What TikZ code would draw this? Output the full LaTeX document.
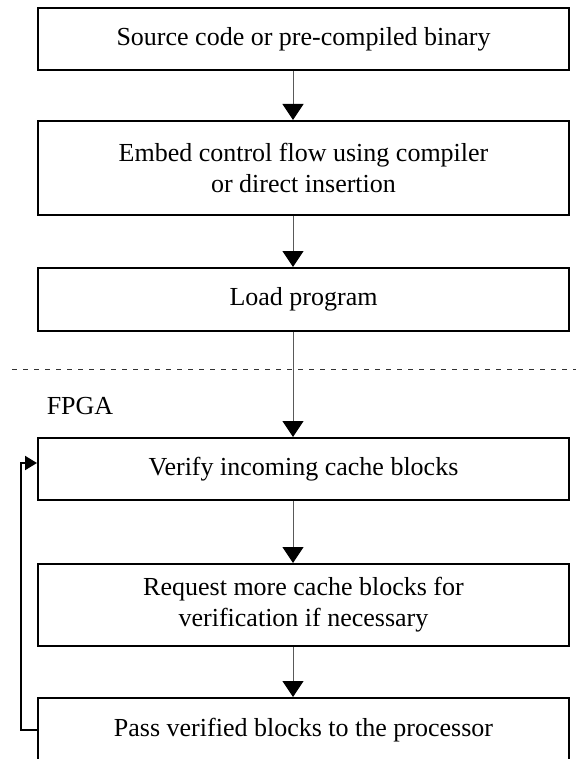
\documentclass[tikz,border=0pt]{standalone}
\usepackage{fontspec}
\setmainfont{Liberation Serif}
\usetikzlibrary{arrows.meta}
\begin{document}
\begin{tikzpicture}[x=1pt,y=-1pt,
  box/.style={draw=black, line width=2pt, minimum width=531pt, inner sep=0pt, align=center, font=\fontsize{26}{31}\selectfont},
  flow/.style={draw=black!65, line width=1pt, -{Triangle[length=16pt,width=21pt,color=black]}},
  loopline/.style={draw=black, line width=2pt, -{Triangle[length=12pt,width=14pt]}},
  sep/.style={draw=black!80, line width=1pt, dash pattern=on 5pt off 6pt},
  lbl/.style={font=\fontsize{26}{31}\selectfont, inner sep=0pt}]
\useasboundingbox (0,0) rectangle (576,759);
\node[box, minimum height=62pt] (b1) at (303.5,39) {Source code or pre-compiled binary};
\node[box, minimum height=94pt] (b2) at (303.5,168) {Embed control flow using compiler\\or direct insertion};
\node[box, minimum height=63pt] (b3) at (303.5,299.5) {Load program};
\node[box, minimum height=62pt] (b4) at (303.5,469) {Verify incoming cache blocks};
\node[box, minimum height=82pt] (b5) at (303.5,605) {Request more cache blocks for\\verification if necessary};
\node[box, minimum height=64pt] (b6) at (303.5,730) {Pass verified blocks to the processor};
\node[lbl] (fpga) at (80,406) {FPGA};
\coordinate (ax) at (293,0);
\coordinate (sl) at (12,369);
\coordinate (sr) at (576,369);
\coordinate (lx) at (21,463);
\draw[sep] (sl) -- (sr);
\draw[flow] (b1.south -| ax) -- (b2.north -| ax);
\draw[flow] (b2.south -| ax) -- (b3.north -| ax);
\draw[flow] (b3.south -| ax) -- (b4.north -| ax);
\draw[flow] (b4.south -| ax) -- (b5.north -| ax);
\draw[flow] (b5.south -| ax) -- (b6.north -| ax);
\draw[loopline] (b6.west) -| (lx) -- (b4.west |- lx);
\end{tikzpicture}
\end{document}
